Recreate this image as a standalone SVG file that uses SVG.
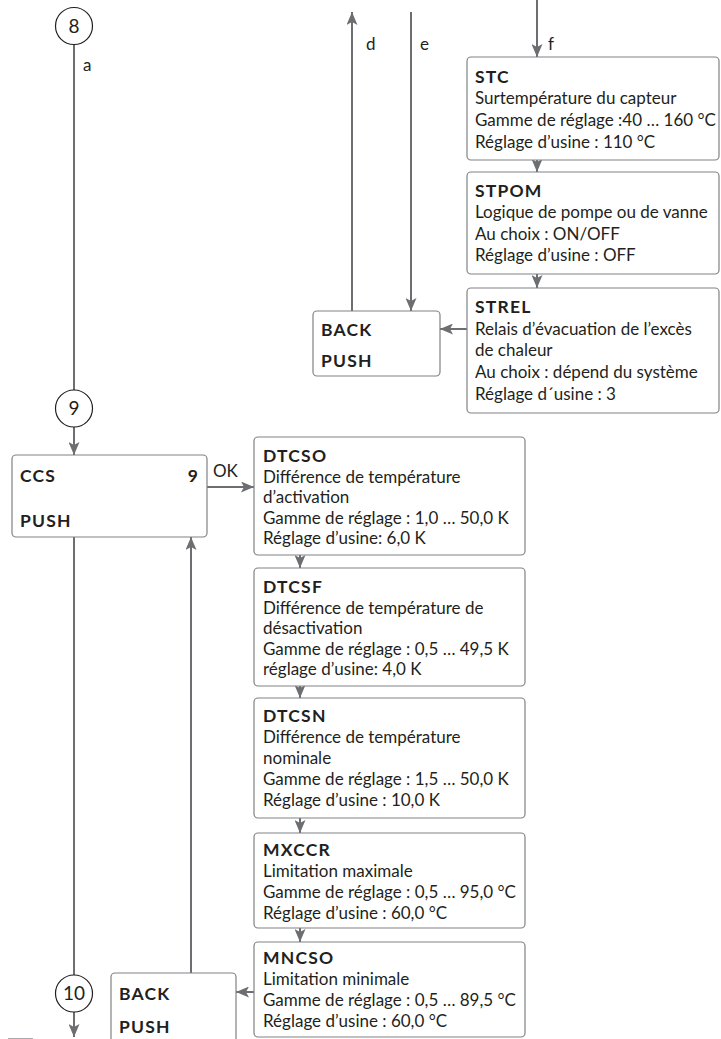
<svg xmlns="http://www.w3.org/2000/svg" width="721" height="1039" viewBox="0 0 721 1039">
<style>
.box{fill:#fff;stroke:#808285;stroke-width:1.2}
.ln{stroke:#6d6e71;stroke-width:2;fill:none}
.ar{stroke:#6d6e71;stroke-width:2;fill:none;marker-end:url(#ah)}
.t{font-family:Lato,"Liberation Sans",sans-serif;font-size:17px;fill:#231f20}
.b{font-weight:bold;font-size:17.5px;letter-spacing:1.2px}
.circ{fill:#fff;stroke:#231f20;stroke-width:1.2}
.num{font-family:Lato,"Liberation Sans",sans-serif;font-size:19px;fill:#231f20;text-anchor:middle}
</style>
<defs>
<marker id="ah" viewBox="0 0 13 11" refX="13" refY="5.5" markerWidth="13" markerHeight="11" orient="auto" markerUnits="userSpaceOnUse">
<path d="M0,0 L13,5.5 L0,11 L3,5.5 z" fill="#6d6e71"/>
</marker>
</defs>
<g id="connectors">
<line class="ln" x1="74" y1="44" x2="74" y2="390"/>
<line class="ar" x1="74" y1="427" x2="74" y2="455"/>
<line class="ar" x1="352" y1="311" x2="352" y2="12"/>
<line class="ar" x1="411" y1="12" x2="411" y2="311"/>
<line class="ar" x1="537" y1="0" x2="537" y2="57"/>
<line class="ar" x1="537" y1="160" x2="537" y2="172"/>
<line class="ar" x1="537" y1="274" x2="537" y2="288"/>
<line class="ar" x1="467" y1="329" x2="440" y2="329"/>
<line class="ar" x1="207" y1="487" x2="254" y2="487"/>
<line class="ar" x1="300" y1="555" x2="300" y2="568"/>
<line class="ar" x1="300" y1="686" x2="300" y2="698"/>
<line class="ar" x1="300" y1="818" x2="300" y2="833"/>
<line class="ar" x1="300" y1="928" x2="300" y2="942"/>
<line class="ar" x1="254" y1="992" x2="236" y2="992"/>
<line class="ar" x1="191" y1="973" x2="191" y2="537"/>
<line class="ln" x1="74" y1="537" x2="74" y2="975"/>
<line class="ar" x1="74" y1="1012" x2="74" y2="1037"/>
<line x1="8" y1="1038.5" x2="33" y2="1038.5" stroke="#a7a9ac" stroke-width="1"/>
<text class="t" x="83" y="71">a</text>
<text class="t" x="366" y="50">d</text>
<text class="t" x="420" y="50">e</text>
<text class="t" x="548" y="50">f</text>
<text class="t" x="213" y="477">OK</text>
</g>
<g id="c8"><circle class="circ" cx="74" cy="26" r="18.5"/><text class="num" x="74" y="32.5">8</text></g>
<g id="c9"><circle class="circ" cx="74" cy="408.5" r="18.5"/><text class="num" x="74" y="415">9</text></g>
<g id="c10"><circle class="circ" cx="74" cy="993.5" r="18.5"/><text class="num" x="74" y="1000">10</text></g>
<g id="stc"><rect class="box" x="467" y="57" width="252" height="103" rx="4"/>
<text class="t b" x="475" y="83">STC</text>
<text class="t" x="475" y="104">Surtempérature du capteur</text>
<text class="t" x="475" y="126">Gamme de réglage :40 … 160 °C</text>
<text class="t" x="475" y="148">Réglage d’usine : 110 °C</text></g>
<g id="stpom"><rect class="box" x="467" y="172" width="252" height="102" rx="4"/>
<text class="t b" x="475" y="197">STPOM</text>
<text class="t" x="475" y="218">Logique de pompe ou de vanne</text>
<text class="t" x="475" y="240">Au choix : ON/OFF</text>
<text class="t" x="475" y="261">Réglage d’usine : OFF</text></g>
<g id="strel"><rect class="box" x="467" y="288" width="252" height="125" rx="4"/>
<text class="t b" x="475" y="313">STREL</text>
<text class="t" x="475" y="335">Relais d’évacuation de l’excès</text>
<text class="t" x="475" y="356">de chaleur</text>
<text class="t" x="475" y="378">Au choix : dépend du système</text>
<text class="t" x="475" y="400">Réglage d´usine : 3</text></g>
<g id="back1"><rect class="box" x="313" y="311" width="127" height="65" rx="4"/>
<text class="t b" x="321" y="336">BACK</text>
<text class="t b" x="321" y="367">PUSH</text></g>
<g id="ccs"><rect class="box" x="12" y="455" width="195" height="82" rx="4"/>
<text class="t b" x="20" y="482">CCS</text>
<text class="t b" x="199" y="482" text-anchor="end">9</text>
<text class="t b" x="20" y="527">PUSH</text></g>
<g id="dtcso"><rect class="box" x="254" y="437" width="271" height="118" rx="4"/>
<text class="t b" x="263" y="462">DTCSO</text>
<text class="t" x="263" y="482.5">Différence de température</text>
<text class="t" x="263" y="503">d’activation</text>
<text class="t" x="263" y="523.5">Gamme de réglage : 1,0 … 50,0 K</text>
<text class="t" x="263" y="544">Réglage d’usine: 6,0 K</text></g>
<g id="dtcsf"><rect class="box" x="254" y="568" width="271" height="118" rx="4"/>
<text class="t b" x="263" y="593">DTCSF</text>
<text class="t" x="263" y="613.5">Différence de température de</text>
<text class="t" x="263" y="634">désactivation</text>
<text class="t" x="263" y="654.5">Gamme de réglage : 0,5 … 49,5 K</text>
<text class="t" x="263" y="675">réglage d’usine: 4,0 K</text></g>
<g id="dtcsn"><rect class="box" x="254" y="698" width="271" height="120" rx="4"/>
<text class="t b" x="263" y="722">DTCSN</text>
<text class="t" x="263" y="743">Différence de température</text>
<text class="t" x="263" y="764">nominale</text>
<text class="t" x="263" y="785">Gamme de réglage : 1,5 … 50,0 K</text>
<text class="t" x="263" y="806">Réglage d’usine : 10,0 K</text></g>
<g id="mxccr"><rect class="box" x="254" y="833" width="271" height="95" rx="4"/>
<text class="t b" x="263" y="856">MXCCR</text>
<text class="t" x="263" y="877">Limitation maximale</text>
<text class="t" x="263" y="898">Gamme de réglage : 0,5 … 95,0 °C</text>
<text class="t" x="263" y="919">Réglage d’usine : 60,0 °C</text></g>
<g id="mncso"><rect class="box" x="254" y="942" width="271" height="95" rx="4"/>
<text class="t b" x="263" y="964">MNCSO</text>
<text class="t" x="263" y="985">Limitation minimale</text>
<text class="t" x="263" y="1006">Gamme de réglage : 0,5 … 89,5 °C</text>
<text class="t" x="263" y="1027">Réglage d’usine : 60,0 °C</text></g>
<g id="back2"><rect class="box" x="111" y="973" width="125" height="90" rx="4"/>
<text class="t b" x="119" y="1000">BACK</text>
<text class="t b" x="119" y="1033">PUSH</text></g>
</svg>
